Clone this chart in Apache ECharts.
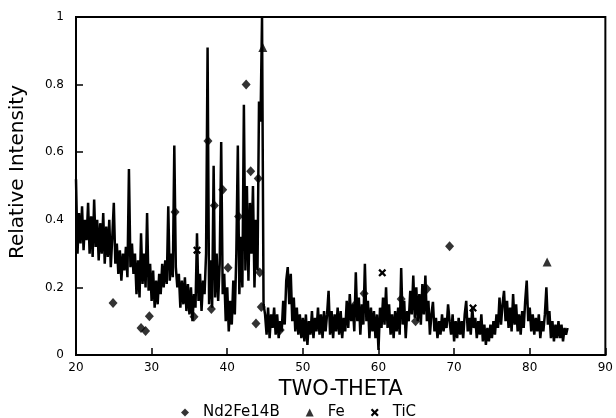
<!DOCTYPE html>
<html>
<head>
<meta charset="utf-8">
<script src="https://cdn.jsdelivr.net/npm/echarts@6/dist/echarts.min.js"></script>
<style>html,body{margin:0;padding:0;background:#fff;}#chart{width:616px;height:418px;}</style>
</head>
<body>
<div id="chart"></div>
<script>
// XRD trace sampled every 0.2 degrees two-theta, starting at 20
const twoThetaStart = 20;
const twoThetaStep = 0.2;
const intensity = [
  0.52,0.30,0.42,0.33,0.44, 0.31,0.40,0.34,0.45,0.30, 0.41,0.29,0.46,0.32,0.40,
  0.28,0.39,0.30,0.42,0.27, 0.38,0.29,0.40,0.26,0.35, 0.45,0.27,0.33,0.24,0.31,
  0.22,0.30,0.25,0.32,0.23, 0.55,0.26,0.33,0.24,0.30, 0.18,0.28,0.17,0.36,0.21,
  0.30,0.20,0.42,0.19,0.27, 0.16,0.25,0.14,0.22,0.15, 0.24,0.18,0.27,0.20,0.28,
  0.21,0.44,0.22,0.30,0.23, 0.62,0.26,0.20,0.24,0.14, 0.22,0.15,0.23,0.13,0.21,
  0.12,0.20,0.10,0.18,0.14, 0.36,0.16,0.24,0.13,0.22, 0.18,0.30,0.91,0.15,0.28,
  0.14,0.56,0.17,0.30,0.16, 0.27,0.63,0.18,0.24,0.10, 0.20,0.07,0.16,0.09,0.22,
  0.12,0.30,0.62,0.18,0.35, 0.20,0.74,0.25,0.50,0.22, 0.45,0.30,0.50,0.20,0.40,
  0.25,0.75,0.69,1.00,0.15, 0.12,0.06,0.14,0.05,0.12, 0.08,0.14,0.06,0.12,0.05,
  0.10,0.07,0.16,0.09,0.22, 0.26,0.15,0.24,0.10,0.17, 0.07,0.14,0.06,0.12,0.05,
  0.11,0.04,0.12,0.03,0.10, 0.06,0.13,0.05,0.11,0.07, 0.14,0.06,0.12,0.05,0.13,
  0.07,0.12,0.19,0.06,0.13, 0.05,0.12,0.07,0.14,0.06, 0.13,0.05,0.11,0.07,0.16,
  0.08,0.18,0.10,0.15,0.07, 0.245,0.10,0.17,0.06,0.15, 0.09,0.27,0.10,0.16,0.05,
  0.14,0.07,0.13,0.05,0.12, 0.015,0.14,0.08,0.17,0.09, 0.20,0.08,0.15,0.06,0.12,
  0.05,0.13,0.07,0.14,0.06, 0.257,0.09,0.16,0.05,0.13, 0.10,0.19,0.12,0.235,0.11,
  0.20,0.10,0.18,0.09,0.21, 0.12,0.235,0.10,0.16,0.06, 0.12,0.157,0.07,0.11,0.05,
  0.10,0.06,0.12,0.07,0.11, 0.08,0.15,0.10,0.06,0.12, 0.04,0.10,0.05,0.11,0.06,
  0.10,0.05,0.12,0.16,0.07, 0.11,0.06,0.14,0.08,0.11, 0.05,0.10,0.06,0.12,0.04,
  0.09,0.03,0.08,0.04,0.09, 0.05,0.10,0.06,0.12,0.08, 0.17,0.09,0.15,0.19,0.10,
  0.16,0.08,0.14,0.07,0.18, 0.09,0.15,0.07,0.12,0.06, 0.13,0.08,0.16,0.22,0.10,
  0.14,0.07,0.12,0.06,0.11, 0.07,0.12,0.05,0.10,0.07, 0.12,0.20,0.09,0.13,0.05,
  0.10,0.04,0.09,0.05,0.10, 0.05,0.09,0.04,0.08,0.06, 0.08
];
const nd2fe14bPeaks = [
  [24.9,0.154],[28.6,0.08],[29.2,0.071],[29.7,0.115],[33.1,0.423],[35.6,0.113],
  [37.45,0.633],[37.9,0.136],[38.3,0.442],[39.4,0.489],[40.1,0.258],[41.5,0.41],
  [42.5,0.80],[43.1,0.544],[43.8,0.093],[44.1,0.522],[44.3,0.244],[44.5,0.142],
  [47.0,0.074],[57.0,0.151],[58.1,0.182],[63.0,0.166],[64.9,0.10],[66.4,0.195],[69.4,0.322]
];
const fePeaks = [[44.7,0.91],[82.3,0.275]];
const ticPeaks = [[36.0,0.31],[60.5,0.243],[72.5,0.139]];
const xTicks = {min:20, max:90, interval:10};
const yTicks = {min:0, max:1, interval:0.2};

const trace = intensity.map((v, i) => [+(twoThetaStart + i * twoThetaStep).toFixed(2), v]);
const crossPath = 'path://M0,2 L2,0 L5,3 L8,0 L10,2 L7,5 L10,8 L8,10 L5,7 L2,10 L0,8 L3,5 Z';
const font = 'DejaVu Sans';

const chart = echarts.init(document.getElementById('chart'), null, {renderer:'canvas'});
chart.setOption({
  animation: false,
  backgroundColor: '#fff',
  grid: {left:72, right:5, top:17, bottom:63, show:true, borderColor:'#000', borderWidth:2, backgroundColor:'transparent'},
  legend: {
    left: 176, top: 400, itemGap: 26, itemWidth: 8, itemHeight: 8,
    data: ['Nd2Fe14B','Fe','TiC'],
    textStyle: {fontFamily: font, fontSize: 15, color:'#000', padding:[0,0,0,9]}
  },
  xAxis: {
    type:'value', min:xTicks.min, max:xTicks.max, interval:xTicks.interval,
    name:'TWO-THETA', nameLocation:'middle', nameGap:19,
    nameTextStyle:{fontFamily:font, fontSize:21, color:'#000'},
    axisLine:{show:true, lineStyle:{color:'#000', width:2}},
    axisTick:{show:true, inside:true, length:7, lineStyle:{color:'#000', width:1.5}},
    axisLabel:{fontFamily:font, fontSize:12, color:'#000', margin:7},
    splitLine:{show:false}
  },
  yAxis: {
    type:'value', min:yTicks.min, max:yTicks.max, interval:yTicks.interval,
    name:'Relative Intensity', nameLocation:'middle', nameGap:48,
    nameTextStyle:{fontFamily:font, fontSize:20, color:'#000', padding:[0,0,0,28]},
    axisLine:{show:true, lineStyle:{color:'#000', width:2}},
    axisTick:{show:true, inside:true, length:7, lineStyle:{color:'#000', width:1.5}},
    axisLabel:{fontFamily:font, fontSize:12, color:'#000', margin:12},
    splitLine:{show:false}
  },
  series: [
    {type:'line', name:'trace', data:trace, symbol:'none', lineStyle:{color:'#000', width:2.5}, z:2},
    {type:'scatter', name:'Nd2Fe14B', data:nd2fe14bPeaks, symbol:'diamond', symbolSize:[9,10], itemStyle:{color:'#000'}, z:3},
    {type:'scatter', name:'Fe', data:fePeaks, symbol:'triangle', symbolSize:9, itemStyle:{color:'#000'}, z:3},
    {type:'scatter', name:'TiC', data:ticPeaks, symbol:crossPath, symbolSize:8, itemStyle:{color:'#000', opacity:1}, z:3}
  ]
});
</script>
</body>
</html>
